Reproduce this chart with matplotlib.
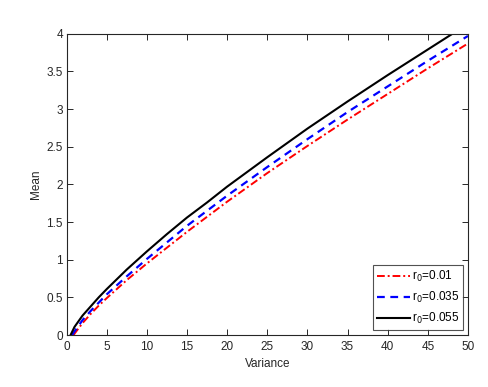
import numpy as np
import matplotlib
matplotlib.use("Agg")
import matplotlib.pyplot as plt

plt.rcParams['font.family'] = ['Liberation Sans', 'DejaVu Sans']

# values (Variance vs Mean)
var_r = [0.9, 1, 2, 3, 4, 5, 7.5, 10, 12.5, 15, 17.5, 20, 25, 30, 35, 40, 45, 50]
mean_r = [0, 0.02, 0.16, 0.28, 0.39, 0.49, 0.73, 0.95, 1.16, 1.37, 1.57, 1.77, 2.15, 2.51, 2.86, 3.20, 3.54, 3.87]

var_b = [0.7, 1, 2, 3, 4, 5, 7.5, 10, 12.5, 15, 17.5, 20, 25, 30, 35, 40, 45, 50]
mean_b = [0, 0.05, 0.20, 0.32, 0.43, 0.54, 0.78, 1.01, 1.23, 1.45, 1.65, 1.85, 2.23, 2.60, 2.96, 3.30, 3.64, 3.97]

var_k = [0.5, 1, 2, 3, 4, 5, 7.5, 10, 12.5, 15, 17.5, 20, 25, 30, 35, 40, 45, 50]
mean_k = [0, 0.11, 0.26, 0.38, 0.50, 0.61, 0.87, 1.11, 1.34, 1.56, 1.76, 1.97, 2.36, 2.74, 3.10, 3.45, 3.79, 4.13]

labels = ['r$_0$=0.01', 'r$_0$=0.035', 'r$_0$=0.055']

fig = plt.figure(figsize=(4.89, 3.87), dpi=100)
ax = fig.add_axes([0.136, 0.134, 0.821, 0.779])

ax.plot(var_r, mean_r, color='red', linestyle=(0, (4, 1.5, 1, 1.5)), linewidth=1.4, label=labels[0])
ax.plot(var_b, mean_b, color='blue', linestyle=(0, (3.5, 2.5)), linewidth=1.6, label=labels[1])
ax.plot(var_k, mean_k, color='black', linestyle='-', linewidth=1.5, label=labels[2])

ax.set_xlim(0, 50)
ax.set_ylim(0, 4)
ax.set_xticks(np.arange(0, 51, 5))
ax.set_yticks(np.arange(0, 4.01, 0.5))
ax.set_yticklabels(['0', '0.5', '1', '1.5', '2', '2.5', '3', '3.5', '4'])

gray = '#262626'
fs = 8.5
for s in ax.spines.values():
    s.set_color(gray)
    s.set_linewidth(0.8)
ax.tick_params(direction='in', top=True, right=True, length=4, width=0.7,
               colors=gray, labelsize=fs)
ax.tick_params(axis='x', pad=4.5)
ax.tick_params(axis='y', pad=2.5)

ax.set_xlabel('Variance', fontsize=fs, color=gray, labelpad=3)
ax.set_ylabel('Mean', fontsize=fs, color=gray, labelpad=3)

leg = ax.legend(loc='lower right', fontsize=fs, frameon=True, fancybox=False,
                handlelength=2.8, handletextpad=0.15, borderpad=0.35,
                labelspacing=0.5, borderaxespad=0.4)
leg.get_frame().set_edgecolor(gray)
leg.get_frame().set_linewidth(0.8)

fig.savefig('out.png', dpi=100)
